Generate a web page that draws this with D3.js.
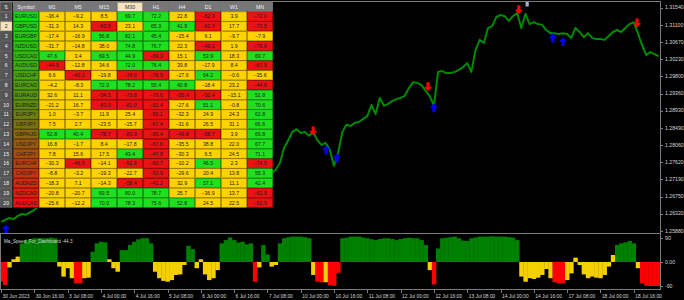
<!DOCTYPE html>
<html>
<head>
<meta charset="utf-8">
<script src="https://cdn.jsdelivr.net/npm/d3@7"></script>
<style>
  body { margin: 0; background: #000; }
  svg { display: block; font-family: "Liberation Sans", Arial, sans-serif; }
</style>
</head>
<body>
<svg id="chart" width="684" height="300"></svg>
<script>
// Dashboard table
var symbols = ['EURUSD', 'GBPUSD', 'EURGBP', 'NZDUSD', 'USDCAD', 'AUDUSD', 'USDCHF', 'EURCAD', 'EURAUD', 'EURNZD',
  'EURJPY', 'GBPJPY', 'GBPAUD', 'USDJPY', 'CHFJPY', 'EURCHF', 'CADJPY', 'AUDNZD', 'NZDCAD', 'AUDCAD']
var periods = ['M1', 'M5', 'M15', 'M30', 'H1', 'H4', 'D1', 'W1', 'MN']
var m1 = [-36.4, -31.3, -17.4, -31.7, 47.6, -44.9, 6.6, -4.2, 32.6, -21.2, 1.0, 7.5, 52.8, 16.8, 7.8, -30.3, -8.8, -18.3, -20.8, -25.6]
var m5 = [-9.2, 14.3, -16.9, -14.8, 3.4, -12.8, -40.2, -8.3, 11.1, 16.7, -3.7, 2.7, 40.4, -1.7, 15.6, -46.5, -3.2, 7.1, -20.7, -12.2]
var m15 = [8.5, -63.8, 56.8, 38.0, 69.5, 34.6, -19.8, 72.0, -54.5, -63.9, 11.9, -23.5, -78.7, 8.4, 17.5, -14.1, -19.3, -14.3, 69.5, 70.0]
var m30 = [69.7, 23.1, 62.1, 74.8, 44.9, 72.0, -74.0, 78.2, -73.8, -81.0, 25.4, -15.7, -83.9, -17.8, 43.4, -52.6, -22.7, -58.4, 80.0, 78.3]
var h1 = [72.2, 65.3, 45.4, 76.7, -69.3, 76.4, -76.9, 55.4, -79.6, -82.4, -59.1, -67.4, -83.4, -67.6, -47.8, -60.7, -53.9, -41.2, 78.7, 75.6]
var h4 = [22.8, 41.9, -15.4, 22.3, 15.1, 39.8, -27.6, 40.8, -55.4, -27.6, -32.3, -31.6, -46.8, -35.5, -30.3, -10.2, -29.6, 32.9, 35.7, 52.8]
var d1 = [-52.9, -62.0, 6.1, -49.1, 53.9, -17.9, 64.2, -18.4, -50.4, 51.1, 24.9, 26.5, -58.7, 38.8, 6.5, 46.5, 20.4, 57.1, -36.9, 24.5]
var w1 = [3.9, 17.7, -9.7, 1.9, 18.3, 8.4, -0.6, 23.2, -15.1, -0.8, 24.3, 31.1, 3.9, 22.0, 24.5, 2.3, 13.8, 11.1, 13.7, 22.5]
var mn = [-72.0, -73.5, -7.9, -76.6, 69.7, -67.9, -35.6, -44.6, 51.8, 70.6, 62.8, 66.6, 69.8, 67.7, 71.1, -74.5, 55.3, 42.4, -62.9, -52.9]
var level = 40

// Price chart (one point every 2 hours)
var prices = [
  1.2611, 1.2616, 1.2621, 1.2618, 1.2626, 1.2631, 1.2629, 1.2636, 1.2641, 1.2651,
  1.2656, 1.2659, 1.2664, 1.2667, 1.2672, 1.2677, 1.2672, 1.2684, 1.2679, 1.2692,
  1.2697, 1.2692, 1.2702, 1.2710, 1.2705, 1.2712, 1.2717, 1.2710, 1.2705, 1.2715,
  1.2722, 1.2727, 1.2720, 1.2712, 1.2717, 1.2725, 1.2730, 1.2722, 1.2715, 1.2707,
  1.2712, 1.2720, 1.2727, 1.2732, 1.2725, 1.2717, 1.2710, 1.2702, 1.2707, 1.2715,
  1.2720, 1.2712, 1.2705, 1.2710, 1.2717, 1.2722, 1.2727, 1.2720, 1.2712, 1.2717,
  1.2722, 1.2727, 1.2730, 1.2732, 1.2732,
  1.2735, 1.2743, 1.2760, 1.2798, 1.2818, 1.2839, 1.2846, 1.2836, 1.2839, 1.2829,
  1.2839, 1.2818, 1.2806, 1.2811, 1.2793, 1.2753, 1.2786, 1.2839, 1.2857, 1.2854,
  1.2862, 1.2864, 1.2872, 1.2879, 1.2907, 1.2884, 1.2925, 1.2905, 1.2910, 1.2917,
  1.2922, 1.2925, 1.2930, 1.2950, 1.2965, 1.2963, 1.2958, 1.2943, 1.2930, 1.2905,
  1.2991, 1.2993, 1.2988, 1.2988, 1.2991, 1.2996, 1.3003, 1.3013, 1.2991, 1.3046,
  1.3072, 1.3064, 1.3102, 1.3107, 1.3130, 1.3135, 1.3132, 1.3120, 1.3132, 1.3140,
  1.3102, 1.3138, 1.3112, 1.3117, 1.3112, 1.3110, 1.3097, 1.3089, 1.3089, 1.3087,
  1.3089, 1.3087, 1.3077, 1.3102, 1.3092, 1.3079, 1.3089, 1.3077, 1.3074, 1.3074,
  1.3072, 1.3082, 1.3092, 1.3097, 1.3092, 1.3102, 1.3112, 1.3117, 1.3089, 1.3059,
  1.3034, 1.3041, 1.3036, 1.3031
]
var priceTicks = [1.31540, 1.31100, 1.30670, 1.30230, 1.29800, 1.29360, 1.28930, 1.28490, 1.28060,
  1.27620, 1.27190, 1.26750, 1.26320, 1.25880]
var timeLabels = ['30 Jun 2023', '30 Jun 16:00', '3 Jul 08:00', '4 Jul 00:00', '4 Jul 16:00', '5 Jul 08:00',
  '6 Jul 00:00', '6 Jul 16:00', '7 Jul 08:00', '10 Jul 00:00', '10 Jul 16:00', '11 Jul 08:00', '12 Jul 00:00',
  '12 Jul 16:00', '13 Jul 08:00', '14 Jul 00:00', '14 Jul 16:00', '17 Jul 08:00', '18 Jul 00:00', '18 Jul 16:00']

// Signal arrows (bar index, price, kind)
var sigIdx = [1.2, 75, 78.1, 80.7, 102.6, 104, 124.4, 126.4, 132.6, 135, 152.8]
var sigPrice = [1.2593, 1.2841, 1.2793, 1.2773, 1.2953, 1.2900, 1.3148, 1.3168, 1.3077, 1.3067, 1.3115]
var sigKind = ['buy', 'sell', 'buy', 'buy', 'sell', 'buy', 'sell', 'mark', 'buy', 'buy', 'sell']

// Indicator window
var indName = 'Ma_Speed_For_Dashboard -44.3'
var indValues = [
  -73, -85, -20, 10, 20, 69, 81, 85, 88, 88,
  88, 88, 90, 88, -17, -54, -23, -60, -79, -79,
  -60, -58, 38, 69, 75, 73, 10, -23, -36, 44,
  44, 63, 75, 84, 88, 88, 69, -36, -60, -70,
  -73, -67, -48, -46, -11, 60, 48, -23, 10, -46,
  -67, -60, -30, 69, 81, 91, 81, 72, 75, 65,
  69, -73, -20, 63, 28, -17, -11, 69, 88, 92,
  94, 94, 94, 92, 88, -48, -73, -75, -75, -85,
  -88, -40, 88, 90, 94, 94, 94, 91, 88, 84,
  81, 85, 88, 88, 85, 81, 85, 88, 90, 88,
  88, 81, 63, -30, -83, 50, 88, 90, 92, 94,
  88, 79, 78, 88, 91, 94, 94, 94, 95, 94,
  94, 94, 92, 90, 81, -54, -73, -60, -63, -58,
  -48, -26, -60, -75, -79, -79, -67, -42, 16, -11,
  -46, -60, -54, -58, -60, -48, -17, 26, 63, 69,
  73, 78, 69, -23, -79, -88, -89, -89, -89
]
var indState = ('rryyyggggg' + 'ggggyyyyrr' + 'yyggggyyyg' + 'gggggggyyy' + 'yyyyyggyyy' +
  'yyyggggggg' + 'gryggyyggg' + 'gggggyrryr' + 'rrgggggggg' + 'gggggggggg' +
  'gggyrggggg' + 'gggggggggg' + 'gggggyyyyy' + 'yyyrrryyyy' + 'yyyyyyyygg' + 'gggyrrrrr').split('')
var indTicks = [90, 0, -90]

// Colours
var cGreen = '#1fe01f', cYellow = '#ffd200', cRed = '#ea1212'
var indColors = { g: '#008000', y: '#f5d000', r: '#ff0000' }
var axisColor = '#7c7c7c', textColor = '#d6d6d6'

var svg = d3.select('#chart')
svg.append('rect').attr('width', 684).attr('height', 300).attr('fill', '#000')

var plotRight = 660
var x = d3.scaleLinear().domain([0, prices.length - 1]).range([1, 1 + (prices.length - 1) * 4.1625])
var y = d3.scaleLinear().domain([1.25880, 1.31540]).range([231, 7.5])
var yInd = d3.scaleLinear().domain([-100, 100]).range([289, 235])

var defs = svg.append('defs')
defs.append('clipPath').attr('id', 'clipMain')
  .append('rect').attr('x', 0).attr('y', 2).attr('width', plotRight).attr('height', 231)
defs.append('clipPath').attr('id', 'clipInd')
  .append('rect').attr('x', 1).attr('y', 235).attr('width', plotRight - 1).attr('height', 54)

// Price line
var line = d3.line().x((d, i) => x(i)).y(d => y(d))
svg.append('g').attr('clip-path', 'url(#clipMain)')
  .append('path')
  .datum(prices)
  .attr('d', line)
  .attr('fill', 'none')
  .attr('stroke', '#008a00')
  .attr('stroke-width', 2)
  .attr('stroke-linejoin', 'round')

// Arrows
var downArrow = 'M-1.6,-4.5 L1.6,-4.5 L1.6,0 L4,0 L0,4.5 L-4,0 L-1.6,0 Z'
var upArrow = 'M-1.6,4.5 L1.6,4.5 L1.6,0 L4,0 L0,-4.5 L-4,0 L-1.6,0 Z'
svg.append('g').attr('clip-path', 'url(#clipMain)')
  .selectAll('path')
  .data(sigIdx)
  .enter()
  .append('path')
  .attr('transform', (d, i) => 'translate(' + x(d) + ',' + y(sigPrice[i]) + ')')
  .attr('d', (d, i) => sigKind[i] == 'sell' ? downArrow : upArrow)
  .attr('fill', (d, i) => sigKind[i] == 'sell' ? '#ff0000' : sigKind[i] == 'buy' ? '#0000ff' : '#9fb3cf')

// Indicator histogram
var step = x(1) - x(0)
svg.append('g').attr('clip-path', 'url(#clipInd)')
  .selectAll('rect')
  .data(indValues)
  .enter()
  .append('rect')
  .attr('x', (d, i) => x(i) - step / 2)
  .attr('width', step + 0.3)
  .attr('y', d => Math.min(yInd(d), yInd(0)))
  .attr('height', d => Math.abs(yInd(d) - yInd(0)))
  .attr('fill', (d, i) => indColors[indState[i]])

// Frames
var frame = svg.append('g').attr('stroke', axisColor).attr('stroke-width', 1)
frame.append('line').attr('x1', 0).attr('x2', plotRight).attr('y1', 1.5).attr('y2', 1.5)
frame.append('line').attr('x1', 0).attr('x2', plotRight).attr('y1', 233.5).attr('y2', 233.5)
frame.append('line').attr('x1', 0).attr('x2', plotRight).attr('y1', 289.5).attr('y2', 289.5)
frame.append('line').attr('x1', plotRight + 0.5).attr('x2', plotRight + 0.5).attr('y1', 1).attr('y2', 290)
frame.append('line').attr('x1', 0.5).attr('x2', 0.5).attr('y1', 233).attr('y2', 290)

// Price axis
var pAxis = svg.append('g')
pAxis.selectAll('line').data(priceTicks).enter().append('line')
  .attr('x1', plotRight).attr('x2', plotRight + 3)
  .attr('y1', d => Math.round(y(d)) + 0.5).attr('y2', d => Math.round(y(d)) + 0.5)
  .attr('stroke', axisColor)
pAxis.selectAll('text').data(priceTicks).enter().append('text')
  .attr('x', plotRight + 5).attr('y', d => y(d)).attr('dy', '0.35em')
  .attr('font-size', 5.2).attr('fill', textColor)
  .text(d => d3.format('.5f')(d))

// Indicator axis
var iAxis = svg.append('g')
iAxis.selectAll('line').data(indTicks).enter().append('line')
  .attr('x1', plotRight).attr('x2', plotRight + 3)
  .attr('y1', d => Math.round(yInd(d)) + 0.5).attr('y2', d => Math.round(yInd(d)) + 0.5)
  .attr('stroke', axisColor)
iAxis.selectAll('text').data(indTicks).enter().append('text')
  .attr('x', plotRight + 5).attr('y', d => yInd(d)).attr('dy', '0.35em')
  .attr('font-size', 5.2).attr('fill', textColor)
  .text(d => d === 0 ? '0.00' : d)

svg.append('text').attr('x', 4).attr('y', 242.5)
  .attr('font-size', 4.6).attr('fill', textColor)
  .text(indName)

// Time axis
var tAxis = svg.append('g')
tAxis.selectAll('line').data(timeLabels).enter().append('line')
  .attr('x1', (d, i) => Math.round(x(i * 8)) + 0.5).attr('x2', (d, i) => Math.round(x(i * 8)) + 0.5)
  .attr('y1', 290).attr('y2', 293)
  .attr('stroke', axisColor)
tAxis.selectAll('text').data(timeLabels).enter().append('text')
  .attr('x', (d, i) => x(i * 8) + 1.5).attr('y', 297.5)
  .attr('font-size', 4.9).attr('fill', textColor)
  .text(d => d)

// Dashboard table
var columns = [m1, m5, m15, m30, h1, h4, d1, w1, mn]
var symColor = d3.scaleLinear().domain([0, 9, 19]).range(['#18d818', '#5e8c10', '#f01010'])
var rowTop = 12, rowH = 9.8, headTop = 2.5, colLeft = 13, colW = 26

function cellColor(v) {
  return v > level ? cGreen : v < -level ? cRed : cYellow
}

var table = svg.append('g')
table.append('rect').attr('x', 0).attr('y', 2).attr('width', colLeft + colW * 10).attr('height', rowTop + rowH * 20 - 2)
  .attr('fill', '#000')

// header row
table.append('rect').attr('x', 0.5).attr('y', headTop).attr('width', 11.5).attr('height', 9)
  .attr('fill', '#4e4e4e').attr('stroke', '#8a8a8a').attr('stroke-width', 0.6)
table.append('text').attr('x', 6.2).attr('y', headTop + 6.6).attr('text-anchor', 'middle')
  .attr('font-size', 5).attr('fill', '#eee').text('⇅')
var headNames = ['Symbol'].concat(periods)
headNames.forEach(function (name, j) {
  var hl = name == 'M30'
  table.append('rect')
    .attr('x', colLeft + colW * j + 0.5).attr('y', headTop)
    .attr('width', colW - 1).attr('height', 9)
    .attr('fill', hl ? '#f3e4c2' : '#777777')
    .attr('stroke', hl ? '#c9b68e' : '#9b9b9b').attr('stroke-width', 0.6)
  table.append('text')
    .attr('x', colLeft + colW * j + colW / 2).attr('y', headTop + 6.4)
    .attr('text-anchor', 'middle').attr('font-size', 5.2)
    .attr('fill', hl ? '#333' : '#f0f0f0')
    .text(name)
})

symbols.forEach(function (sym, r) {
  var top = rowTop + rowH * r
  var hl = r == 1
  table.append('rect').attr('x', 0.5).attr('y', top).attr('width', 11.5).attr('height', rowH - 0.8)
    .attr('fill', hl ? '#f3e4c2' : '#555555').attr('stroke', hl ? '#c9b68e' : '#7a7a7a').attr('stroke-width', 0.6)
  table.append('text').attr('x', 6.2).attr('y', top + 6.4).attr('text-anchor', 'middle')
    .attr('font-size', 5.2).attr('fill', hl ? '#333' : '#f4f4f4').text(r + 1)

  table.append('rect').attr('x', colLeft + 0.5).attr('y', top).attr('width', colW - 1).attr('height', rowH - 0.8)
    .attr('fill', symColor(r)).attr('stroke', d3.color(symColor(r)).darker(0.6)).attr('stroke-width', 0.6)
  table.append('text').attr('x', colLeft + colW / 2).attr('y', top + 6.4).attr('text-anchor', 'middle')
    .attr('font-size', 5.2).attr('fill', '#1b1b1b').text(sym)

  columns.forEach(function (col, j) {
    var v = col[r]
    var cx = colLeft + colW * (j + 1)
    table.append('rect').attr('x', cx + 0.5).attr('y', top).attr('width', colW - 1).attr('height', rowH - 0.8)
      .attr('fill', cellColor(v)).attr('stroke', d3.color(cellColor(v)).darker(0.5)).attr('stroke-width', 0.6)
    table.append('text').attr('x', cx + colW / 2).attr('y', top + 6.4).attr('text-anchor', 'middle')
      .attr('font-size', 5.2).attr('fill', '#1b1b1b').text(d3.format('.1f')(v))
  })
})
</script>
</body>
</html>
